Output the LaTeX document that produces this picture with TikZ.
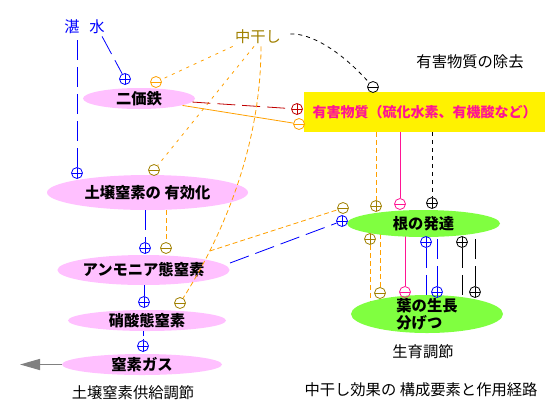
\documentclass[tikz,border=0pt]{standalone}
\usepackage{fontspec}
\setmainfont{Noto Sans CJK JP}
\usetikzlibrary{shapes.geometric,arrows.meta,backgrounds}

\definecolor{pinkfill}{RGB}{255,192,255}
\definecolor{greenfill}{RGB}{128,255,64}
\definecolor{harmpink}{RGB}{255,20,147}
\definecolor{nakacol}{RGB}{160,128,0}
\definecolor{dryorange}{RGB}{255,160,0}
\definecolor{ironred}{RGB}{192,0,0}
\definecolor{arrowgray}{RGB}{128,128,128}
\newcommand{\jpsize}{\fontsize{15.3}{17}\selectfont}

\begin{document}
\begin{tikzpicture}[x=1pt,y=-1pt,line width=0.8pt,
  txt/.style={inner sep=2pt,font=\jpsize},
  soil/.style={ellipse,fill=pinkfill,inner xsep=0pt,inner ysep=-4pt,font=\jpsize\bfseries},
  plant/.style={ellipse,fill=greenfill,inner xsep=0pt,inner ysep=-4pt,font=\jpsize\bfseries},
  sgn/.style={circle,draw=#1,inner sep=0pt,minimum size=11pt},
  pl/.style={sgn=#1,path picture={\draw[#1]
      (path picture bounding box.north) -- (path picture bounding box.south)
      (path picture bounding box.west) -- (path picture bounding box.east);}},
  mi/.style={sgn=#1,path picture={\draw[#1]
      (path picture bounding box.west) -- (path picture bounding box.east);}},
  longdash/.style={dash pattern=on 20pt off 7pt},
  shortdash/.style={dash pattern=on 5pt off 3pt},
  dotdash/.style={dash pattern=on 3pt off 5pt},
  reddash/.style={dash pattern=on 18pt off 7pt},
  blackdot/.style={dash pattern=on 4pt off 4pt}]
  \useasboundingbox (0,0) rectangle (556,408);

  \node[txt,text=blue]    (tan)    at (72,27)   {湛};
  \node[txt,text=blue]    (sui)    at (97,27)   {水};
  \node[txt,text=nakacol] (naka)   at (258,37)  {中干し};
  \node[txt]              (jokyo)  at (470,62)  {有害物質の除去};
  \node[txt]              (kyokyu) at (133,393) {土壌窒素供給調節};
  \node[txt]              (seiiku) at (423,352) {生育調節};
  \node[txt]              (title)  at (421,390) {中干し効果の 構成要素と作用経路};

  \node[soil,minimum width=112pt,minimum height=21pt] (nika) at (139,98.5)    {二価鉄};
  \node[soil,minimum width=201pt,minimum height=35pt] (dojo) at (147.5,192.5) {土壌窒素の 有効化};
  \node[soil,minimum width=161pt,minimum height=30pt] (amm)  at (143.5,270)   {アンモニア態窒素};
  \node[soil,minimum width=158pt,minimum height=21pt] (sho)  at (147,320.5)   {硝酸態窒素};
  \node[soil,minimum width=160pt,minimum height=21pt] (gas)  at (142,364.5)   {窒素ガス};
  \node[plant,minimum width=153pt,minimum height=27pt] (ne)  at (423.5,223.5) {根の発達};
  \node[plant,minimum width=152pt,minimum height=38pt,align=left] (ha) at (427,314) {葉の生長\\分げつ};
  \node[fill=yellow,minimum width=241pt,minimum height=40pt,text=harmpink,
    font=\fontsize{14}{17}\selectfont\bfseries]
    (yugai) at (424.5,112) {有害物質（硫化水素、有機酸など）};
  \coordinate (gasend) at (20,364.5);

  \node[pl=blue]      (pnika) at (125,79)  {};
  \node[mi=dryorange] (mnika) at (156,82)  {};
  \node[pl=ironred]   (pyu)   at (297,109) {};
  \node[mi=dryorange] (myu)   at (299,124) {};
  \node[mi=black]     (myu2)  at (373,87)  {};
  \node[pl=blue]      (pdojo) at (77,173)  {};
  \node[mi=nakacol]   (mdojo) at (154,170) {};
  \node[pl=blue]      (pamm)  at (145,248) {};
  \node[mi=nakacol]   (mamm)  at (166,248) {};
  \node[pl=blue]      (psho)  at (144,302) {};
  \node[mi=nakacol]   (msho)  at (180,303) {};
  \node[pl=blue]      (pgas)  at (143,346) {};
  \node[mi=nakacol]   (mne1)  at (343,208) {};
  \node[pl=blue]      (pne1)  at (342,221) {};
  \node[pl=nakacol]   (pne2)  at (376,206) {};
  \node[mi=harmpink]  (mne2)  at (400,204) {};
  \node[pl=black]     (pne3)  at (432,203) {};
  \node[pl=nakacol]   (pne4)  at (370,239) {};
  \node[pl=blue]      (pne5)  at (426,242) {};
  \node[pl=black]     (pne6)  at (462,242) {};
  \node[mi=nakacol]   (mha1)  at (380,293) {};
  \node[mi=harmpink]  (mha2)  at (405,292) {};
  \node[pl=blue]      (pha1)  at (437,292) {};
  \node[pl=black]     (pha2)  at (475,292) {};

  \path
  (sui) edge[blue,longdash] (pnika)
  ([yshift=-4pt]tan.south -| pdojo) edge[blue,longdash] (pdojo)
  (naka.south west) edge[dryorange,dotdash] (mnika)
  ([xshift=-4pt]naka.south) edge[dryorange,dotdash] (mdojo)
  (nika)
  edge[ironred,reddash] (pyu)
  edge[dryorange] (myu)
  (dojo.south -| pamm) edge[blue,longdash] (pamm)
  (dojo.south -| mamm) edge[dryorange,shortdash] (mamm)
  (amm.south -| psho) edge[blue] (psho)
  (sho.south -| pgas) edge[blue,shortdash] (pgas)
  ([yshift=7pt]amm.east) edge[blue,longdash] (pne1)
  (yugai.south -| pne2) edge[dryorange,shortdash] (pne2)
  (yugai.south -| mne2) edge[harmpink] (mne2)
  (yugai.south -| pne3) edge[black,blackdot] (pne3)
  ;

  \draw[dryorange,shortdash] ([xshift=3pt]naka.south)
    .. controls (261,150) and (220,240) .. (msho) coordinate[pos=0.76] (fork);
  \draw[dryorange,shortdash] (fork) -- (mne1);
  \draw[black,blackdot] ([xshift=7pt,yshift=3pt]naka.east)
    .. controls (310,33) and (340,50) .. (myu2);
  \draw[arrowgray,line width=1.5pt,-{Triangle[length=20pt,width=11pt]}] (gas) -- (gasend);

  \begin{scope}[on background layer]
    \draw[dryorange,shortdash] (pne4) -- (pne4 |- ha.center);
    \draw[blue,longdash] (pne5) -- (pne5 |- ha.center);
    \draw[black,longdash] (pne6) -- (pne6 |- ha.center);
    \draw[dryorange,shortdash] (mha1) -- (mha1 |- ne.center);
    \draw[harmpink] (mha2) -- (mha2 |- ne.center);
    \draw[blue,longdash] (pha1) -- (pha1 |- ne.center);
    \draw[black,longdash] (pha2) -- (pha2 |- ne.center);
  \end{scope}
\end{tikzpicture}
\end{document}
